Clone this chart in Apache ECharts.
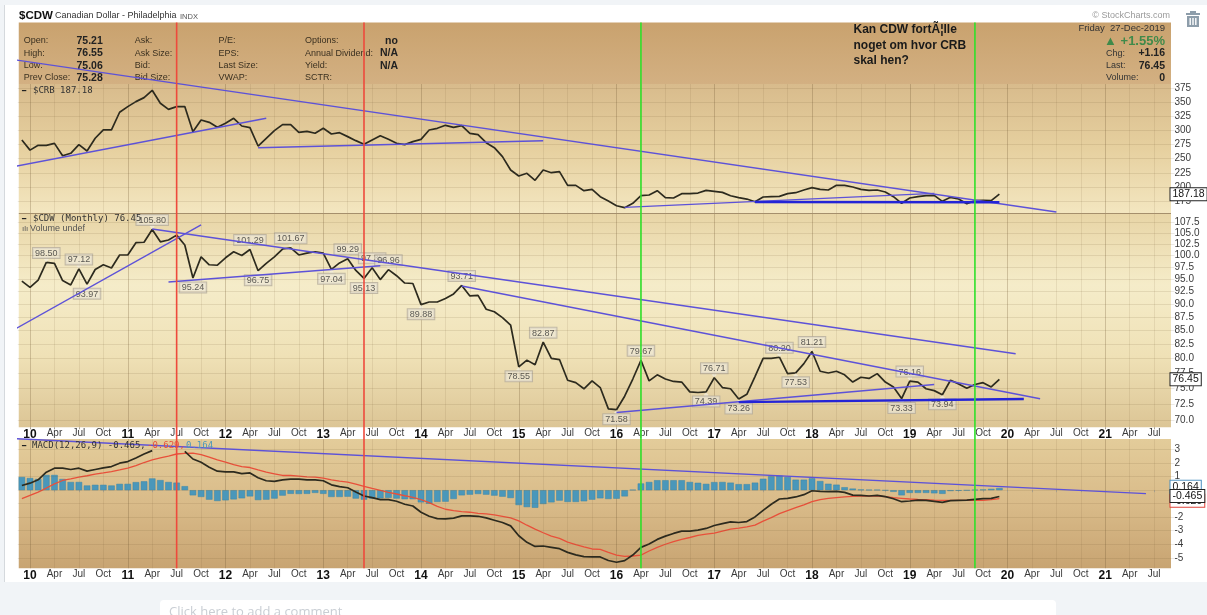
<!DOCTYPE html>
<html>
<head>
<meta charset="utf-8">
<title>$CDW</title>
<script src="https://cdn.jsdelivr.net/npm/echarts@6/dist/echarts.min.js"></script>
<style>
  html, body { margin: 0; padding: 0; background: #fff; }
  #chart { width: 1207px; height: 615px; }
</style>
</head>
<body>
<div id="chart"></div>
<script>
// month 0 is Dec 2009, then one row per year up to Dec 2019
const crbValues = [
  283,
  265, 273.5, 273.5, 277, 255, 259.4, 274.7, 263.5, 286, 300.7, 300.7, 332,
  342, 350.8, 357.9, 370.9, 347.9, 337.2, 342, 342, 297.7, 318.4, 314.2, 305.4,
  312.5, 321.3, 307.7, 304.8, 272.3, 286, 299.5, 310.1, 310.1, 296.5, 298.3, 294.8,
  303.6, 293.6, 295.9, 288.9, 281.8, 275.3, 283, 290.6, 284.1, 277, 274.7, 280,
  284.1, 300.7, 303.6, 308.9, 305.4, 308.3, 294.8, 292.4, 278.2, 269.4, 253.5, 229.9,
  219.3, 224, 211.6, 229.9, 225.1, 226.9, 202.7, 202.7, 193.3, 195.6, 182.7, 175,
  166.7, 163.2, 170.9, 184.4, 185.6, 193.3, 180.9, 180.3, 188, 188, 189.1, 193.9,
  192.1, 190.3, 184.4, 180.9, 178.5, 173.8, 182.1, 182.7, 183.3, 188, 189.7, 194.5,
  198.6, 195.6, 194.5, 202.7, 202.7, 199.8, 195.6, 193.9, 194.5, 190.9, 182.7, 170.9,
  180.3, 182.7, 184.4, 185, 174.4, 181.5, 178.5, 170.3, 175.6, 176.2, 175.6, 187.18
]

const cdwValues = [
  94.6,
  93.3, 94.8, 98.5, 98.3, 94.7, 93.8, 97.12, 93.97, 97, 98, 97.3, 100.1,
  100.1, 102.8, 102.9, 105.8, 103, 103.4, 104.5, 102.3, 95.24, 99.7, 98, 97.9,
  99.5, 100.8, 100, 101.29, 96.75, 98.3, 99.7, 101.4, 101.67, 100.1, 100.5, 100.8,
  100.5, 97.04, 98.4, 99.29, 96.8, 95.13, 97.35, 94.9, 96.96, 95.7, 94.2, 94.1,
  89.88, 90.4, 90.4, 91.1, 92, 93.71, 91.6, 91.7, 89, 88.5, 87.4, 86,
  78.55, 79.7, 78.9, 82.87, 80, 79.8, 76.3, 75.9, 74.9, 76.2, 75.1, 71.7,
  71.58, 73.7, 76.5, 79.67, 76.2, 77.2, 76.5, 76.1, 76, 74.4, 74.3, 74.39,
  76.71, 75.1, 74.9, 73.26, 74, 76.9, 80, 80, 80.2, 77.4, 77.53, 79.1,
  81.21, 77.8, 77.5, 77.8, 77.2, 76, 76.8, 76.6, 77.4, 76, 75.2, 73.33,
  76.16, 76, 74.9, 74.6, 73.94, 76.3, 75.7, 75, 75.6, 75.9, 75.2, 76.45
]

const macdValues = [
  0.35,
  0.52, 0.77, 1.33, 1.63, 1.63, 1.53, 1.63, 1.41, 1.53, 1.65, 1.75, 2.0,
  2.12, 2.39, 2.68, 2.93, null, null, null, 2.88, 2.31, 2.07, 1.7, 1.41,
  1.36, 1.36, 1.23, 1.28, 0.92, 0.7, 0.65, 0.77, 0.82, 0.82, 0.77, 0.77,
  0.7, 0.4, 0.26, 0.18, -0.14, -0.43, -0.55, -0.7, -0.7, -0.82, -1.04, -1.17,
  -1.63, -1.93, -2.1, -2.12, -2.07, -1.9, -1.9, -1.93, -2.05, -2.22, -2.39, -2.64,
  -3.37, -3.86, -4.16, -4.13, -4.23, -4.33, -4.6, -4.79, -4.92, -4.94, -4.94, -5.2,
  -5.33, -5.21, -4.8, -4.23, -3.98, -3.64, -3.4, -3.2, -3.03, -3.03, -2.96, -2.83,
  -2.61, -2.47, -2.34, -2.39, -2.32, -1.98, -1.49, -1.04, -0.65, -0.6, -0.5, -0.33,
  -0.04, -0.09, -0.11, -0.09, -0.16, -0.36, -0.38, -0.43, -0.38, -0.48, -0.63, -0.85,
  -0.8, -0.73, -0.75, -0.82, -0.9, -0.77, -0.75, -0.73, -0.68, -0.63, -0.6, -0.465
]

const signalValues = [
  -0.63,
  -0.38, -0.14, 0.16, 0.47, 0.72, 0.84, 0.97, 1.07, 1.19, 1.28, 1.38, 1.5,
  1.63, 1.82, 2.05, 2.24, 2.39, 2.53, 2.68, 2.73, 2.75, 2.63, 2.44, 2.24,
  2.07, 1.9, 1.75, 1.68, 1.5, 1.33, 1.21, 1.09, 1.09, 1.04, 0.99, 0.97,
  0.89, 0.77, 0.67, 0.6, 0.45, 0.28, 0.13, -0.01, -0.16, -0.28, -0.41, -0.53,
  -0.7, -0.92, -1.19, -1.41, -1.51, -1.58, -1.63, -1.71, -1.75, -1.83, -1.93, -2.05,
  -2.27, -2.59, -2.88, -3.15, -3.4, -3.57, -3.84, -4.03, -4.2, -4.35, -4.38, -4.6,
  -4.8, -4.89, -4.87, -4.8, -4.5, -4.23, -4, -3.81, -3.64, -3.5, -3.35, -3.25,
  -3.18, -3.03, -2.88, -2.81, -2.71, -2.59, -2.29, -2.03, -1.73, -1.51, -1.29, -1.09,
  -0.85, -0.7, -0.6, -0.55, -0.5, -0.46, -0.43, -0.43, -0.43, -0.48, -0.55, -0.6,
  -0.65, -0.68, -0.7, -0.73, -0.75, -0.75, -0.75, -0.75, -0.75, -0.75, -0.7, -0.629
]

const histValues = [
  0.98,
  0.9, 0.83, 1.13, 1.13, 0.83, 0.61, 0.61, 0.35, 0.4, 0.4, 0.35, 0.47,
  0.47, 0.6, 0.66, 0.87, 0.75, 0.61, 0.56, 0.3, -0.38, -0.5, -0.7, -0.8,
  -0.75, -0.68, -0.6, -0.46, -0.73, -0.7, -0.62, -0.4, -0.27, -0.28, -0.27, -0.2,
  -0.27, -0.5, -0.5, -0.48, -0.62, -0.7, -0.62, -0.6, -0.57, -0.62, -0.67, -0.67,
  -0.9, -1, -0.87, -0.85, -0.65, -0.38, -0.33, -0.28, -0.33, -0.4, -0.48, -0.58,
  -1.1, -1.25, -1.3, -1.02, -0.9, -0.77, -0.87, -0.87, -0.82, -0.7, -0.6, -0.65,
  -0.63, -0.46, 0.03, 0.5, 0.61, 0.74, 0.74, 0.74, 0.74, 0.61, 0.55, 0.47,
  0.6, 0.61, 0.56, 0.45, 0.45, 0.56, 0.85, 1.03, 1.08, 0.98, 0.78, 0.78,
  0.88, 0.68, 0.48, 0.41, 0.22, 0.12, 0.05, 0.03, 0.03, -0.02, -0.12, -0.38,
  -0.2, -0.2, -0.2, -0.23, -0.27, -0.06, -0.04, -0.02, 0.03, 0.05, 0.1, 0.164
]

const crbTicks = [375, 350, 325, 300, 275, 250, 225, 200, 175]
const cdwTicks = [107.5, 105, 102.5, 100, 97.5, 95, 92.5, 90, 87.5, 85, 82.5, 80, 77.5, 75, 72.5, 70]
const macdTicks = [3, 2, 1, 0, -1, -2, -3, -4, -5]

// months that carry a value box on the CDW line
const cdwPeakMonths = [3, 7, 16, 28, 33, 40, 43, 45, 54, 64, 76, 85, 93, 97, 109]
const cdwTroughMonths = [8, 21, 29, 38, 42, 49, 61, 73, 84, 88, 95, 108, 113]

// trend lines: [month, value] pairs on each panel's own axes
const crbTrends = [
  [[-2, 427.2], [127, 155.5]],
  [[-2, 233.2], [30, 321.4]],
  [[29, 269.2], [64, 281.7]],
  [[74, 163.7], [112, 188.6]]
]
const crbSupport = [[90, 173.2], [120, 172.7]]
const cdwTrends = [
  [[-2, 84.26], [22, 106.85]],
  [[16, 105.9], [122, 80.8]],
  [[18, 94.4], [44, 97.8]],
  [[54, 93.6], [125, 73.3]],
  [[73, 71.14], [112, 75.6]]
]
const cdwSupport = [[88, 72.77], [123, 73.26]]
const macdTrend = [[-2, 3.85], [138, -0.25]]

const redMonths = [19, 42]
const greenMonths = [76, 117]

// Dec 2009 .. Sep 2021
const monthNames = ['Jan', 'Feb', 'Mar', 'Apr', 'May', 'Jun', 'Jul', 'Aug', 'Sep', 'Oct', 'Nov', 'Dec']
const months = ['Dec 09']
for (let year = 10; year <= 21; year++) {
  monthNames.forEach(m => months.push(m + ' ' + year))
}
months.length = 142

const GRID_LEFT = 17.8
const GRID_WIDTH = 1156.7
const panels = [
  { top: 84, bottom: 213, min: 153.8, max: 382 },
  { top: 214, bottom: 427.3, min: 68.9, max: 109.4 },
  { top: 439, bottom: 568.3, min: -5.78, max: 3.79 }
]

const isQuarter = index => (index - 1) % 3 === 0 && index > 0

function monthLabel(value) {
  const [m, y] = value.split(' ')
  return m === 'Jan' ? '{year|' + y + '}' : m
}

function buildXAxis(gridIndex, withLabels) {
  return {
    type: 'category',
    gridIndex,
    data: months,
    axisLine: { show: false },
    axisTick: {
      show: withLabels,
      alignWithLabel: true,
      interval: isQuarter,
      length: 2,
      lineStyle: { color: '#a89f8c' }
    },
    axisLabel: {
      show: withLabels,
      interval: isQuarter,
      margin: 1,
      formatter: monthLabel,
      color: '#3a3a3a',
      fontFamily: 'Liberation Sans',
      fontSize: 10,
      rich: { year: { fontWeight: 'bold', fontSize: 12, color: '#111', fontFamily: 'Liberation Sans' } }
    },
    splitLine: {
      show: true,
      alignWithLabel: true,
      interval: isQuarter,
      lineStyle: { color: ['rgba(110,85,50,0.28)', 'rgba(110,85,50,0.11)', 'rgba(110,85,50,0.11)', 'rgba(110,85,50,0.11)'], width: 1 }
    }
  }
}

function tickLines(ticks, decimals, hidden) {
  return ticks.map(t => ({
    yAxis: t,
    name: hidden.includes(t) ? '' : t.toFixed(decimals),
    label: { formatter: '{b}' },
    lineStyle: { color: 'rgba(110,85,50,0.13)', width: 1, type: 'solid' }
  }))
}

function valueTag(value, text, color) {
  return {
    yAxis: value,
    name: text,
    lineStyle: { color: 'rgba(0,0,0,0)' },
    label: {
      formatter: '{b}',
      color: '#111',
      fontSize: 10.5,
      distance: -4,
      backgroundColor: '#fff',
      borderColor: color,
      borderWidth: 1,
      padding: [1, 2, 0, 2]
    }
  }
}

function tickMarkLine(data) {
  return {
    silent: true,
    symbol: 'none',
    animation: false,
    label: {
      position: 'end',
      distance: 0,
      color: '#3a3a3a',
      fontFamily: 'Liberation Sans',
      fontSize: 10
    },
    data
  }
}

function trendSeries(points, axisIndex, color, width) {
  return {
    type: 'line',
    xAxisIndex: axisIndex,
    yAxisIndex: axisIndex,
    data: points,
    clip: false,
    symbol: 'none',
    silent: true,
    z: 5,
    lineStyle: { color, width }
  }
}

function boxSeries(monthList, labelPosition, symbolShift) {
  return {
    type: 'scatter',
    xAxisIndex: 1,
    yAxisIndex: 1,
    data: monthList.map(m => [m, cdwValues[m]]),
    symbol: 'diamond',
    symbolSize: 5,
    symbolOffset: [0, symbolShift],
    silent: true,
    z: 4,
    itemStyle: { color: 'rgba(243,238,222,0.95)' },
    label: {
      show: true,
      position: labelPosition,
      distance: -1,
      formatter: p => p.value[1].toFixed(2),
      color: '#333',
      fontFamily: 'Liberation Sans',
      fontSize: 9,
      backgroundColor: 'rgba(238,232,215,0.85)',
      borderColor: '#b5ad9c',
      borderWidth: 1,
      padding: [1, 2, 0, 2]
    }
  }
}

// vertical markers span all panels, so they hang off the CRB axes
function markerSeries(monthList, color) {
  return monthList.map(m => trendSeries([[m, 491], [m, -474.6]], 0, color, 1.6))
}

function buildSeries() {
  return [
    {
      type: 'line',
      xAxisIndex: 0,
      yAxisIndex: 0,
      data: crbValues,
      symbol: 'none',
      silent: true,
      z: 3,
      lineStyle: { color: '#2c2a1e', width: 1.7 },
      markLine: tickMarkLine(tickLines(crbTicks, 0, []).concat([valueTag(187.18, '187.18', '#222')]))
    },
    {
      type: 'line',
      xAxisIndex: 1,
      yAxisIndex: 1,
      data: cdwValues,
      symbol: 'none',
      silent: true,
      z: 3,
      lineStyle: { color: '#2c2a1e', width: 1.7 },
      markLine: tickMarkLine(tickLines(cdwTicks, 1, []).concat([valueTag(76.45, '76.45', '#222')]))
    },
    {
      type: 'bar',
      xAxisIndex: 2,
      yAxisIndex: 2,
      data: histValues,
      barWidth: 6.5,
      silent: true,
      z: 2,
      itemStyle: { color: '#4a97ba', borderColor: '#3a86a8', borderWidth: 0.5 },
      markLine: tickMarkLine(tickLines(macdTicks, 0, [0]).concat([
        valueTag(-0.78, '-0.629', '#e0433a'),
        valueTag(0.26, '0.164', '#4a8fc0'),
        valueTag(-0.42, '-0.465', '#222')
      ]))
    },
    {
      type: 'line',
      xAxisIndex: 2,
      yAxisIndex: 2,
      data: signalValues,
      symbol: 'none',
      silent: true,
      z: 3,
      lineStyle: { color: '#e8503a', width: 1.3 }
    },
    {
      type: 'line',
      xAxisIndex: 2,
      yAxisIndex: 2,
      data: macdValues,
      symbol: 'none',
      silent: true,
      z: 4,
      lineStyle: { color: '#2c2a1e', width: 1.7 }
    },
    boxSeries(cdwPeakMonths, 'top', -3),
    boxSeries(cdwTroughMonths, 'bottom', 3),
    ...crbTrends.map(t => trendSeries(t, 0, '#5d52d8', 1.4)),
    trendSeries(crbSupport, 0, '#2424d6', 2.4),
    ...cdwTrends.map(t => trendSeries(t, 1, '#5d52d8', 1.4)),
    trendSeries(cdwSupport, 1, '#2424d6', 2.4),
    trendSeries(macdTrend, 2, '#5d52d8', 1.4),
    ...markerSeries(redMonths, '#ee4a3c'),
    ...markerSeries(greenMonths, '#2fe02a')
  ]
}

function vGradient(stops) {
  return {
    type: 'linear', x: 0, y: 0, x2: 0, y2: 1,
    colorStops: stops.map((c, i) => ({ offset: i / (stops.length - 1), color: c }))
  }
}

function rect(x, y, w, h, fill, z = -5, r = 0) {
  return { type: 'rect', silent: true, z, shape: { x, y, width: w, height: h, r }, style: { fill } }
}

function txt(x, y, text, opts = {}) {
  return {
    type: 'text',
    silent: true,
    z: opts.z || 1,
    x,
    y,
    style: {
      text,
      fill: opts.color || '#333',
      font: (opts.weight || 'normal') + ' ' + (opts.size || 9) + 'px ' + (opts.family || '"Liberation Sans"'),
      textAlign: opts.align || 'left',
      textVerticalAlign: 'middle'
    }
  }
}

const infoColumns = [
  { x: 23.7, rows: ['Open:', 'High:', 'Low:', 'Prev Close:'] },
  { x: 134.7, rows: ['Ask:', 'Ask Size:', 'Bid:', 'Bid Size:'] },
  { x: 218.5, rows: ['P/E:', 'EPS:', 'Last Size:', 'VWAP:'] },
  { x: 305, rows: ['Options:', 'Annual Dividend:', 'Yield:', 'SCTR:'] }
]
const infoRowY = [41, 53.5, 66, 78]
const openValues = ['75.21', '76.55', '75.06', '75.28']
const optionValues = ['no', 'N/A', 'N/A']
const noteLines = ['Kan CDW fortÃ¦lle', 'noget om hvor CRB', 'skal hen?']

function buildGraphics() {
  const els = [
    rect(0, 0, 1207, 5, '#f1f4f7'),
    rect(0, 5, 4, 577, '#f1f4f7'),
    rect(4, 5, 1, 577, '#d5d9dd'),
    rect(0, 582, 1207, 33, '#f1f4f7'),
    rect(160, 600, 896, 30, '#ffffff', -4, 4),
    rect(18.75, 22.5, 1152.25, 61.5, vGradient(['#c9a26e', '#d3b082'])),
    rect(18.75, 84, 1152.25, 129, vGradient(['#d8bb8c', '#e6d09f', '#f3e6c0'])),
    rect(18.75, 213, 1152.25, 1, '#a58f6c', -4),
    rect(18.75, 214, 1152.25, 213.3, vGradient(['#e8d5a6', '#f5ecc9', '#efe1b6', '#dcc595'])),
    rect(18.75, 439, 1152.25, 129.3, vGradient(['#e3cc9a', '#d9bb89', '#c8a472'])),

    txt(19, 16, '$CDW', { size: 11.5, weight: 'bold', color: '#111' }),
    txt(55, 16, 'Canadian Dollar - Philadelphia', { size: 9, color: '#333' }),
    txt(180, 17, 'INDX', { size: 7.5, color: '#555' }),
    txt(1170, 16, '© StockCharts.com', { size: 9, color: '#9a9a9a', align: 'right' }),
    txt(1165, 28.5, 'Friday  27-Dec-2019', { size: 9.5, align: 'right' }),
    txt(1165, 41, '▲ +1.55%', { size: 13, color: '#3f8a4a', align: 'right', weight: 'bold' }),
    txt(1106, 53.5, 'Chg:'),
    txt(1165, 53.5, '+1.16', { weight: 'bold', size: 10.5, align: 'right', color: '#222' }),
    txt(1106, 66, 'Last:'),
    txt(1165, 66, '76.45', { weight: 'bold', size: 10.5, align: 'right', color: '#222' }),
    txt(1106, 78, 'Volume:'),
    txt(1165, 78, '0', { weight: 'bold', size: 10.5, align: 'right', color: '#222' }),

    txt(22, 91, '━', { size: 7, color: '#222', z: 6 }),
    txt(33, 91, '$CRB 187.18', { size: 9, family: '"DejaVu Sans Mono"', color: '#333', z: 6 }),
    txt(22, 219, '━', { size: 7, color: '#222', z: 6 }),
    txt(33, 219, '$CDW (Monthly) 76.45', { size: 9, family: '"DejaVu Sans Mono"', color: '#333', z: 6 }),
    txt(22, 228.5, 'ılı', { size: 8, color: '#555', z: 6 }),
    txt(30, 228.5, 'Volume undef', { size: 9, color: '#555', z: 6 }),
    txt(22, 446, '━', { size: 7, color: '#222', z: 6 }),
    txt(32, 446, 'MACD(12,26,9) -0.465,', { size: 9, family: '"DejaVu Sans Mono"', color: '#333', z: 6 }),
    txt(147, 446, '-0.629,', { size: 9, family: '"DejaVu Sans Mono"', color: '#e8503a', z: 6 }),
    txt(186, 446, '0.164', { size: 9, family: '"DejaVu Sans Mono"', color: '#4a97ba', z: 6 }),

    txt(169, 612, 'Click here to add a comment', { size: 13, color: '#c9ced4', family: '"Open Sans"' }),

    // trash can
    rect(1186, 13, 14, 2, '#8d9daa', 1),
    rect(1190, 11, 6, 2, '#8d9daa', 1),
    rect(1187, 16, 12, 11, '#8d9daa', 1),
    rect(1189.5, 18, 1.4, 7, '#ffffff', 2),
    rect(1192.3, 18, 1.4, 7, '#ffffff', 2),
    rect(1195.1, 18, 1.4, 7, '#ffffff', 2)
  ]
  infoColumns.forEach(col => {
    col.rows.forEach((label, i) => els.push(txt(col.x, infoRowY[i], label, { size: 9, color: '#3a3020' })))
  })
  openValues.forEach((v, i) => els.push(txt(76.5, infoRowY[i], v, { size: 10.5, weight: 'bold', color: '#222' })))
  optionValues.forEach((v, i) => els.push(txt(i === 0 ? 385 : 380, infoRowY[i], v, { size: 10.5, weight: 'bold', color: '#222' })))
  noteLines.forEach((line, i) => els.push(txt(853.5, 30 + i * 15.5, line, { size: 12, weight: 'bold', color: '#1a1a1a' })))
  return els
}

const chart = echarts.init(document.getElementById('chart'), null, { renderer: 'canvas' })
chart.setOption({
  animation: false,
  backgroundColor: '#ffffff',
  graphic: { elements: buildGraphics() },
  grid: panels.map(p => ({
    left: GRID_LEFT,
    width: GRID_WIDTH,
    top: p.top,
    height: p.bottom - p.top
  })),
  xAxis: [buildXAxis(0, false), buildXAxis(1, true), buildXAxis(2, true)],
  yAxis: panels.map((p, i) => ({
    type: i === 1 ? 'log' : 'value',
    gridIndex: i,
    min: p.min,
    max: p.max,
    show: false
  })),
  series: buildSeries()
})
</script>
</body>
</html>
